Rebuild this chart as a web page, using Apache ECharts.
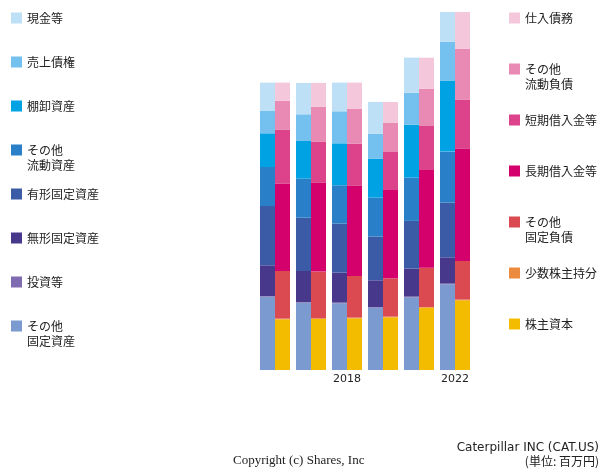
<!DOCTYPE html>
<html lang="ja">
<head>
    <meta charset="UTF-8">
    <title>Caterpillar INC 貸借対照表推移</title>
    <script src="https://cdn.jsdelivr.net/npm/echarts@6/dist/echarts.min.js"></script>
    <style>
        html, body { margin: 0; padding: 0; background: #fff; }
    </style>
</head>
<body>
    <div id="chart" style="width:600px; height:470px;"></div>
    <script>
        // 年度（表示ラベルは2018と2022のみ）
        var years = ['2016', '2017', '2018', '2020', '2021', '2022'];
        var shownYears = ['2018', '2022'];

        // 資産の部（下から順）
        var otherFixedAssets = [73.3, 67.3, 66.7, 62.3, 72.7, 85.7];
        var investments = [0.7, 0.7, 0.7, 0.7, 0.7, 0.7];
        var intangibleAssets = [30.7, 31, 30, 26.7, 28, 26.3];
        var tangibleAssets = [59.3, 53.3, 49, 43.7, 47.7, 54.7];
        var otherCurrentAssets = [39, 39, 38.3, 39, 43.3, 51];
        var inventories = [33.7, 37.7, 42, 38.7, 53, 71];
        var receivables = [22.3, 26.7, 32, 25, 31.7, 38.7];
        var cash = [28.3, 31.3, 28.7, 32, 35.3, 30.7];

        // 負債・純資産の部（下から順）
        var equity = [50.7, 51, 51.7, 52.7, 62.3, 69.7];
        var minority = [0.7, 0.7, 0.7, 0.7, 0.7, 0.7];
        var otherFixedLiab = [47.7, 46.7, 41.7, 38.3, 39.3, 38.7];
        var longTermDebt = [87.3, 88.7, 90, 88.3, 97.7, 112];
        var shortTermDebt = [53.7, 41, 42.3, 38, 44, 49];
        var otherCurrentLiab = [29, 35, 35, 29, 37.3, 51];
        var payables = [18.3, 24, 26, 21, 31, 37.7];

        var assetSeries = [
            { name: 'その他\n固定資産', data: otherFixedAssets, color: '#7b9ad0' },
            { name: '投資等', data: investments, color: '#7f6cb0' },
            { name: '無形固定資産', data: intangibleAssets, color: '#47388b' },
            { name: '有形固定資産', data: tangibleAssets, color: '#3c5ba6' },
            { name: 'その他\n流動資産', data: otherCurrentAssets, color: '#2a80c8' },
            { name: '棚卸資産', data: inventories, color: '#00a2e3' },
            { name: '売上債権', data: receivables, color: '#74c1ef' },
            { name: '現金等', data: cash, color: '#bde0f6' }
        ];
        var liabSeries = [
            { name: '株主資本', data: equity, color: '#f4bc00' },
            { name: '少数株主持分', data: minority, color: '#ec8a3d' },
            { name: 'その他\n固定負債', data: otherFixedLiab, color: '#dc4a51' },
            { name: '長期借入金等', data: longTermDebt, color: '#d4006b' },
            { name: '短期借入金等', data: shortTermDebt, color: '#dc438a' },
            { name: 'その他\n流動負債', data: otherCurrentLiab, color: '#e88ab4' },
            { name: '仕入債務', data: payables, color: '#f4c7db' }
        ];

        var series = [];
        assetSeries.forEach(function (s) {
            series.push({ name: s.name, type: 'bar', stack: 'assets', barWidth: 15, barGap: '0%',
                data: s.data, itemStyle: { color: s.color }, emphasis: { disabled: true } });
        });
        liabSeries.forEach(function (s) {
            series.push({ name: s.name, type: 'bar', stack: 'liab', barWidth: 15, barGap: '0%',
                data: s.data, itemStyle: { color: s.color }, emphasis: { disabled: true } });
        });

        // 凡例は1項目ずつ配置（上から順）
        // 2行の項目は四角を1行目にそろえる（下に見えない点を置いた path）
        function makeLegend(name, left, center) {
            var twoLine = name.indexOf('\n') >= 0;
            return {
                data: [name],
                left: left,
                top: center - 7.5,
                padding: 0,
                itemWidth: 11,
                itemHeight: twoLine ? 26 : 11,
                itemGap: 0,
                selectedMode: false,
                symbolKeepAspect: false,
                icon: twoLine ? 'path://M0,0H11V11H0Z M0,26H0.01V26H0Z' : 'rect',
                textStyle: {
                    fontFamily: 'Noto Sans CJK JP',
                    fontSize: 12,
                    lineHeight: 15,
                    color: '#222'
                }
            };
        }
        var legends = [];
        assetSeries.slice().reverse().forEach(function (s, i) {
            legends.push(makeLegend(s.name, 11, 18 + i * 44));
        });
        liabSeries.slice().reverse().forEach(function (s, i) {
            legends.push(makeLegend(s.name, 509, 18 + i * 51));
        });

        var chart = echarts.init(document.getElementById('chart'));
        chart.setOption({
            animation: false,
            title: [
                { text: 'Copyright (c) Shares, Inc', left: 233, top: 454, padding: 0,
                  textStyle: { fontFamily: 'Liberation Serif', fontSize: 13, fontWeight: 'normal', color: '#222' } },
                { text: 'Caterpillar INC (CAT.US)', right: 1, top: 442, padding: 0,
                  textStyle: { fontFamily: 'DejaVu Sans', fontSize: 12, fontWeight: 'normal', color: '#222' } },
                { text: '(単位: 百万円)', right: 1, top: 455, padding: 0,
                  textStyle: { fontFamily: 'Noto Sans CJK JP', fontSize: 12, fontWeight: 'normal', color: '#222' } }
            ],
            legend: legends,
            grid: { left: 257, right: 127, top: 12, bottom: 100 },
            xAxis: {
                type: 'category',
                data: years,
                axisLine: { show: false },
                axisTick: { show: false },
                axisLabel: {
                    fontFamily: 'DejaVu Sans',
                    fontSize: 11,
                    color: '#222',
                    margin: 4,
                    interval: function (index, value) {
                        return shownYears.indexOf(value) >= 0;
                    }
                }
            },
            yAxis: { type: 'value', min: 0, max: 358, show: false },
            series: series
        });
    </script>
</body>
</html>
